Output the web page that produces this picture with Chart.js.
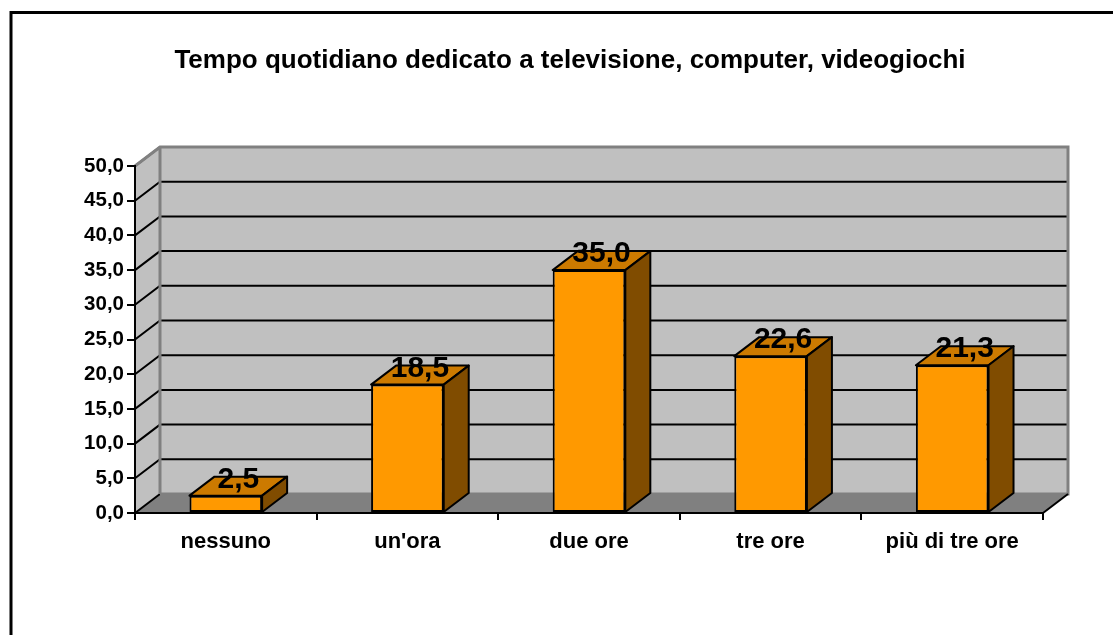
<!DOCTYPE html>
<html>
<head>
<meta charset="utf-8">
<script src="https://cdn.jsdelivr.net/npm/chart.js@4/dist/chart.umd.min.js"></script>
<style>
  html, body { margin: 0; padding: 0; background: #ffffff; }
  canvas { display: block; }
</style>
</head>
<body>
<canvas id="tvChart" width="1113" height="635"></canvas>
<script>
// Data
const categories = ['nessuno', "un'ora", 'due ore', 'tre ore', 'più di tre ore'];
const percentages = [2.5, 18.5, 35.0, 22.6, 21.3];
const chartTitle = 'Tempo quotidiano dedicato a televisione, computer, videogiochi';

// 3D depth of walls and bars
const DEPTH_X = 25;
const DEPTH_Y = -19;

const FONT = "'Liberation Sans', Arial, sans-serif";

function fmt(v) {
    return Number(v).toFixed(1).replace('.', ',');
}

// White background, outer frame, title, back/side walls and floor
const wallsPlugin = {
    id: 'walls',
    beforeDraw(chart) {
        const ctx = chart.ctx;
        const area = chart.chartArea;
        const y = chart.scales.y;
        const L = area.left, R = area.right, T = area.top, B = area.bottom;

        ctx.save();
        ctx.fillStyle = '#ffffff';
        ctx.fillRect(0, 0, chart.width, chart.height);

        // outer frame
        ctx.strokeStyle = '#000000';
        ctx.lineWidth = 3;
        ctx.strokeRect(11, 12.5, 1300, 800);

        // title (centred over the whole framed chart, not only the plot)
        ctx.fillStyle = '#000000';
        ctx.font = 'bold 26px ' + FONT;
        ctx.textAlign = 'center';
        ctx.textBaseline = 'middle';
        ctx.fillText(chartTitle, 570, 61);

        // back wall
        ctx.fillStyle = '#c0c0c0';
        ctx.fillRect(L + DEPTH_X, T + DEPTH_Y, R - L, B - T);

        // left side wall
        ctx.beginPath();
        ctx.moveTo(L, T);
        ctx.lineTo(L + DEPTH_X, T + DEPTH_Y);
        ctx.lineTo(L + DEPTH_X, B + DEPTH_Y);
        ctx.lineTo(L, B);
        ctx.closePath();
        ctx.fill();

        // floor
        ctx.fillStyle = '#808080';
        ctx.beginPath();
        ctx.moveTo(L, B);
        ctx.lineTo(R, B);
        ctx.lineTo(R + DEPTH_X, B + DEPTH_Y);
        ctx.lineTo(L + DEPTH_X, B + DEPTH_Y);
        ctx.closePath();
        ctx.fill();

        // gridlines on back wall + diagonals on side wall
        ctx.strokeStyle = '#000000';
        ctx.lineWidth = 2;
        y.ticks.forEach(t => {
            const py = y.getPixelForValue(t.value);
            ctx.beginPath();
            ctx.moveTo(L, py);
            ctx.lineTo(L + DEPTH_X, py + DEPTH_Y);
            if (t.value > y.min && t.value < y.max) {
                ctx.lineTo(R + DEPTH_X, py + DEPTH_Y);
            }
            ctx.stroke();
        });

        // wall edges
        ctx.strokeStyle = '#808080';
        ctx.lineWidth = 3;
        ctx.beginPath();
        ctx.moveTo(L, T);
        ctx.lineTo(L + DEPTH_X, T + DEPTH_Y);
        ctx.lineTo(R + DEPTH_X, T + DEPTH_Y);
        ctx.lineTo(R + DEPTH_X, B + DEPTH_Y);
        ctx.lineTo(L + DEPTH_X, B + DEPTH_Y);
        ctx.moveTo(L + DEPTH_X, T + DEPTH_Y);
        ctx.lineTo(L + DEPTH_X, B + DEPTH_Y);
        ctx.stroke();

        // floor front-right diagonal
        ctx.strokeStyle = '#000000';
        ctx.lineWidth = 2;
        ctx.beginPath();
        ctx.moveTo(R, B);
        ctx.lineTo(R + DEPTH_X, B + DEPTH_Y);
        ctx.stroke();
        ctx.restore();
    }
};

// Top and side faces of the bars, plus value labels
const bars3dPlugin = {
    id: 'bars3d',
    afterDatasetsDraw(chart) {
        const ctx = chart.ctx;
        const meta = chart.getDatasetMeta(0);
        ctx.save();
        ctx.strokeStyle = '#000000';
        ctx.lineWidth = 2;
        ctx.lineJoin = 'round';
        meta.data.forEach(bar => {
            const half = bar.width / 2;
            const l = bar.x - half, r = bar.x + half;
            // top face
            ctx.fillStyle = '#cc7a00';
            ctx.beginPath();
            ctx.moveTo(l, bar.y);
            ctx.lineTo(l + DEPTH_X, bar.y + DEPTH_Y);
            ctx.lineTo(r + DEPTH_X, bar.y + DEPTH_Y);
            ctx.lineTo(r, bar.y);
            ctx.closePath();
            ctx.fill();
            ctx.stroke();
            // side face
            ctx.fillStyle = '#804c00';
            ctx.beginPath();
            ctx.moveTo(r, bar.y);
            ctx.lineTo(r + DEPTH_X, bar.y + DEPTH_Y);
            ctx.lineTo(r + DEPTH_X, bar.base + DEPTH_Y);
            ctx.lineTo(r, bar.base);
            ctx.closePath();
            ctx.fill();
            ctx.stroke();
        });

        ctx.fillStyle = '#000000';
        ctx.font = 'bold 30px ' + FONT;
        ctx.textAlign = 'center';
        ctx.textBaseline = 'middle';
        meta.data.forEach((bar, i) => {
            ctx.fillText(fmt(percentages[i]), bar.x + DEPTH_X / 2, bar.y + DEPTH_Y + 3);
        });
        ctx.restore();
    }
};

new Chart(document.getElementById('tvChart'), {
    type: 'bar',
    data: {
        labels: categories,
        datasets: [{
            data: percentages,
            backgroundColor: '#ff9900',
            borderColor: '#000000',
            borderWidth: 2,
            borderSkipped: false,
            barPercentage: 0.4,
            categoryPercentage: 1.0
        }]
    },
    options: {
        responsive: false,
        animation: false,
        devicePixelRatio: 1,
        layout: {
            padding: { left: 0, right: 70, top: 166, bottom: 0 }
        },
        plugins: {
            legend: { display: false },
            tooltip: { enabled: false },
            title: { display: false }
        },
        scales: {
            x: {
                grid: {
                    offset: true,
                    drawOnChartArea: false,
                    drawTicks: true,
                    tickLength: 7,
                    color: '#000000',
                    lineWidth: 2
                },
                border: { display: true, color: '#000000', width: 2 },
                ticks: {
                    color: '#000000',
                    padding: 9,
                    maxRotation: 0,
                    font: { family: FONT, size: 22, weight: 'bold' }
                },
                afterFit(scale) { scale.height = 122; }
            },
            y: {
                min: 0,
                max: 50,
                grid: {
                    drawOnChartArea: false,
                    drawTicks: true,
                    tickLength: 8,
                    color: '#000000',
                    lineWidth: 2
                },
                border: { display: true, color: '#000000', width: 2 },
                ticks: {
                    stepSize: 5,
                    color: '#000000',
                    padding: 3,
                    font: { family: FONT, size: 20.5, weight: 'bold' },
                    callback: v => fmt(v)
                },
                afterFit(scale) { scale.width = 135; }
            }
        }
    },
    plugins: [wallsPlugin, bars3dPlugin]
});
</script>
</body>
</html>
